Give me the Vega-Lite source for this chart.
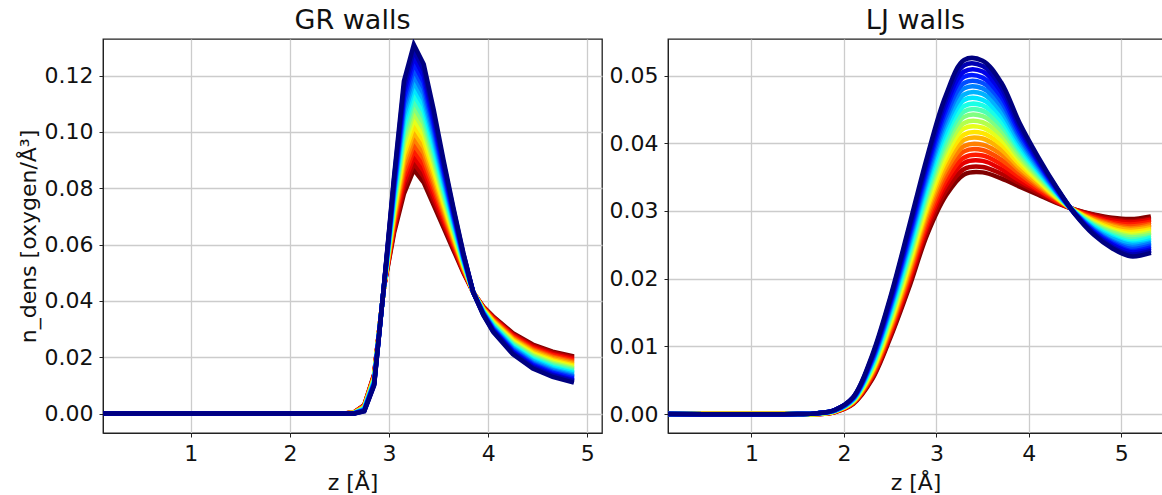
{"$schema":"https://vega.github.io/schema/vega-lite/v6.json","background":"white","padding":{"left":16,"top":6,"right":0,"bottom":0},"config":{"font":"DejaVu Sans","view":{"stroke":"#222","strokeWidth":1.3},"axis":{"labelFont":"DejaVu Sans","labelFontSize":22,"labelColor":"#111","titleFont":"DejaVu Sans","titleFontSize":22,"titleFontWeight":"normal","titleColor":"#111","tickColor":"#222","tickSize":4,"domainColor":"#222","gridColor":"#cccccc","gridWidth":1.3,"labelPadding":6},"title":{"font":"DejaVu Sans","fontSize":27,"fontWeight":"normal","color":"#111","offset":4}},"spacing":66,"bounds":"flush",
"datasets":{"gr":[
{"k":0,"z":0.115,"n":0},{"k":1,"z":0.115,"n":0},{"k":2,"z":0.115,"n":0},{"k":3,"z":0.115,"n":0},{"k":4,"z":0.115,"n":0},{"k":5,"z":0.115,"n":0},{"k":6,"z":0.115,"n":0},{"k":7,"z":0.115,"n":0},{"k":8,"z":0.115,"n":0},{"k":9,"z":0.115,"n":0},{"k":10,"z":0.115,"n":0},{"k":11,"z":0.115,"n":0},{"k":12,"z":0.115,"n":0},{"k":13,"z":0.115,"n":0},{"k":14,"z":0.115,"n":0},{"k":15,"z":0.115,"n":0},{"k":16,"z":0.115,"n":0},{"k":17,"z":0.115,"n":0},{"k":18,"z":0.115,"n":0},{"k":19,"z":0.115,"n":0},{"k":20,"z":0.115,"n":0},
{"k":0,"z":2.55,"n":0},{"k":1,"z":2.55,"n":0},{"k":2,"z":2.55,"n":0},{"k":3,"z":2.55,"n":0},{"k":4,"z":2.55,"n":0},{"k":5,"z":2.55,"n":0},{"k":6,"z":2.55,"n":0},{"k":7,"z":2.55,"n":0},{"k":8,"z":2.55,"n":0},{"k":9,"z":2.55,"n":0},{"k":10,"z":2.55,"n":0},{"k":11,"z":2.55,"n":0},{"k":12,"z":2.55,"n":0},{"k":13,"z":2.55,"n":0},{"k":14,"z":2.55,"n":0},{"k":15,"z":2.55,"n":0},{"k":16,"z":2.55,"n":0},{"k":17,"z":2.55,"n":0},{"k":18,"z":2.55,"n":0},{"k":19,"z":2.55,"n":0},{"k":20,"z":2.55,"n":0},
{"k":0,"z":2.65,"n":0.0005},{"k":1,"z":2.65,"n":0.0005},{"k":2,"z":2.65,"n":0.0004},{"k":3,"z":2.65,"n":0.0004},{"k":4,"z":2.65,"n":0.0004},{"k":5,"z":2.65,"n":0.0004},{"k":6,"z":2.65,"n":0.0003},{"k":7,"z":2.65,"n":0.0003},{"k":8,"z":2.65,"n":0.0003},{"k":9,"z":2.65,"n":0.0003},{"k":10,"z":2.65,"n":0.0002},{"k":11,"z":2.65,"n":0.0002},{"k":12,"z":2.65,"n":0.0002},{"k":13,"z":2.65,"n":0.0002},{"k":14,"z":2.65,"n":0.0001},{"k":15,"z":2.65,"n":0.0001},{"k":16,"z":2.65,"n":0.0001},{"k":17,"z":2.65,"n":0.0001},{"k":18,"z":2.65,"n":0},{"k":19,"z":2.65,"n":0},{"k":20,"z":2.65,"n":0},
{"k":0,"z":2.75,"n":0.003},{"k":1,"z":2.75,"n":0.0029},{"k":2,"z":2.75,"n":0.0028},{"k":3,"z":2.75,"n":0.0027},{"k":4,"z":2.75,"n":0.0026},{"k":5,"z":2.75,"n":0.0025},{"k":6,"z":2.75,"n":0.0023},{"k":7,"z":2.75,"n":0.0022},{"k":8,"z":2.75,"n":0.0021},{"k":9,"z":2.75,"n":0.002},{"k":10,"z":2.75,"n":0.0019},{"k":11,"z":2.75,"n":0.0018},{"k":12,"z":2.75,"n":0.0017},{"k":13,"z":2.75,"n":0.0016},{"k":14,"z":2.75,"n":0.0015},{"k":15,"z":2.75,"n":0.0014},{"k":16,"z":2.75,"n":0.0012},{"k":17,"z":2.75,"n":0.0011},{"k":18,"z":2.75,"n":0.001},{"k":19,"z":2.75,"n":0.0009},{"k":20,"z":2.75,"n":0.0008},
{"k":0,"z":2.85,"n":0.014},{"k":1,"z":2.85,"n":0.0138},{"k":2,"z":2.85,"n":0.0136},{"k":3,"z":2.85,"n":0.0134},{"k":4,"z":2.85,"n":0.0132},{"k":5,"z":2.85,"n":0.013},{"k":6,"z":2.85,"n":0.0128},{"k":7,"z":2.85,"n":0.0126},{"k":8,"z":2.85,"n":0.0124},{"k":9,"z":2.85,"n":0.0122},{"k":10,"z":2.85,"n":0.012},{"k":11,"z":2.85,"n":0.0118},{"k":12,"z":2.85,"n":0.0116},{"k":13,"z":2.85,"n":0.0114},{"k":14,"z":2.85,"n":0.0112},{"k":15,"z":2.85,"n":0.011},{"k":16,"z":2.85,"n":0.0108},{"k":17,"z":2.85,"n":0.0106},{"k":18,"z":2.85,"n":0.0104},{"k":19,"z":2.85,"n":0.0102},{"k":20,"z":2.85,"n":0.01},
{"k":0,"z":2.95,"n":0.045},{"k":1,"z":2.95,"n":0.045},{"k":2,"z":2.95,"n":0.0451},{"k":3,"z":2.95,"n":0.0451},{"k":4,"z":2.95,"n":0.0452},{"k":5,"z":2.95,"n":0.0452},{"k":6,"z":2.95,"n":0.0453},{"k":7,"z":2.95,"n":0.0453},{"k":8,"z":2.95,"n":0.0454},{"k":9,"z":2.95,"n":0.0454},{"k":10,"z":2.95,"n":0.0455},{"k":11,"z":2.95,"n":0.0455},{"k":12,"z":2.95,"n":0.0456},{"k":13,"z":2.95,"n":0.0456},{"k":14,"z":2.95,"n":0.0457},{"k":15,"z":2.95,"n":0.0457},{"k":16,"z":2.95,"n":0.0458},{"k":17,"z":2.95,"n":0.0458},{"k":18,"z":2.95,"n":0.0459},{"k":19,"z":2.95,"n":0.0459},{"k":20,"z":2.95,"n":0.046},
{"k":0,"z":3.05,"n":0.064},{"k":1,"z":3.05,"n":0.065},{"k":2,"z":3.05,"n":0.066},{"k":3,"z":3.05,"n":0.067},{"k":4,"z":3.05,"n":0.068},{"k":5,"z":3.05,"n":0.069},{"k":6,"z":3.05,"n":0.07},{"k":7,"z":3.05,"n":0.071},{"k":8,"z":3.05,"n":0.072},{"k":9,"z":3.05,"n":0.073},{"k":10,"z":3.05,"n":0.074},{"k":11,"z":3.05,"n":0.075},{"k":12,"z":3.05,"n":0.076},{"k":13,"z":3.05,"n":0.077},{"k":14,"z":3.05,"n":0.078},{"k":15,"z":3.05,"n":0.079},{"k":16,"z":3.05,"n":0.08},{"k":17,"z":3.05,"n":0.081},{"k":18,"z":3.05,"n":0.082},{"k":19,"z":3.05,"n":0.083},{"k":20,"z":3.05,"n":0.084},
{"k":0,"z":3.15,"n":0.078},{"k":1,"z":3.15,"n":0.08},{"k":2,"z":3.15,"n":0.082},{"k":3,"z":3.15,"n":0.084},{"k":4,"z":3.15,"n":0.086},{"k":5,"z":3.15,"n":0.088},{"k":6,"z":3.15,"n":0.09},{"k":7,"z":3.15,"n":0.092},{"k":8,"z":3.15,"n":0.094},{"k":9,"z":3.15,"n":0.096},{"k":10,"z":3.15,"n":0.098},{"k":11,"z":3.15,"n":0.1},{"k":12,"z":3.15,"n":0.102},{"k":13,"z":3.15,"n":0.104},{"k":14,"z":3.15,"n":0.106},{"k":15,"z":3.15,"n":0.108},{"k":16,"z":3.15,"n":0.11},{"k":17,"z":3.15,"n":0.112},{"k":18,"z":3.15,"n":0.114},{"k":19,"z":3.15,"n":0.116},{"k":20,"z":3.15,"n":0.118},
{"k":0,"z":3.25,"n":0.0866},{"k":1,"z":3.25,"n":0.0888},{"k":2,"z":3.25,"n":0.091},{"k":3,"z":3.25,"n":0.0933},{"k":4,"z":3.25,"n":0.0955},{"k":5,"z":3.25,"n":0.0977},{"k":6,"z":3.25,"n":0.0999},{"k":7,"z":3.25,"n":0.1021},{"k":8,"z":3.25,"n":0.1044},{"k":9,"z":3.25,"n":0.1066},{"k":10,"z":3.25,"n":0.1088},{"k":11,"z":3.25,"n":0.111},{"k":12,"z":3.25,"n":0.1132},{"k":13,"z":3.25,"n":0.1155},{"k":14,"z":3.25,"n":0.1177},{"k":15,"z":3.25,"n":0.1199},{"k":16,"z":3.25,"n":0.1221},{"k":17,"z":3.25,"n":0.1243},{"k":18,"z":3.25,"n":0.1266},{"k":19,"z":3.25,"n":0.1288},{"k":20,"z":3.25,"n":0.131},
{"k":0,"z":3.35,"n":0.082},{"k":1,"z":3.35,"n":0.0841},{"k":2,"z":3.35,"n":0.0862},{"k":3,"z":3.35,"n":0.0883},{"k":4,"z":3.35,"n":0.0904},{"k":5,"z":3.35,"n":0.0925},{"k":6,"z":3.35,"n":0.0946},{"k":7,"z":3.35,"n":0.0967},{"k":8,"z":3.35,"n":0.0988},{"k":9,"z":3.35,"n":0.1009},{"k":10,"z":3.35,"n":0.103},{"k":11,"z":3.35,"n":0.1051},{"k":12,"z":3.35,"n":0.1072},{"k":13,"z":3.35,"n":0.1093},{"k":14,"z":3.35,"n":0.1114},{"k":15,"z":3.35,"n":0.1135},{"k":16,"z":3.35,"n":0.1156},{"k":17,"z":3.35,"n":0.1177},{"k":18,"z":3.35,"n":0.1198},{"k":19,"z":3.35,"n":0.1219},{"k":20,"z":3.35,"n":0.124},
{"k":0,"z":3.45,"n":0.074},{"k":1,"z":3.45,"n":0.0757},{"k":2,"z":3.45,"n":0.0774},{"k":3,"z":3.45,"n":0.0791},{"k":4,"z":3.45,"n":0.0808},{"k":5,"z":3.45,"n":0.0825},{"k":6,"z":3.45,"n":0.0842},{"k":7,"z":3.45,"n":0.0859},{"k":8,"z":3.45,"n":0.0876},{"k":9,"z":3.45,"n":0.0893},{"k":10,"z":3.45,"n":0.091},{"k":11,"z":3.45,"n":0.0927},{"k":12,"z":3.45,"n":0.0944},{"k":13,"z":3.45,"n":0.0961},{"k":14,"z":3.45,"n":0.0978},{"k":15,"z":3.45,"n":0.0995},{"k":16,"z":3.45,"n":0.1012},{"k":17,"z":3.45,"n":0.1029},{"k":18,"z":3.45,"n":0.1046},{"k":19,"z":3.45,"n":0.1063},{"k":20,"z":3.45,"n":0.108},
{"k":0,"z":3.55,"n":0.066},{"k":1,"z":3.55,"n":0.0672},{"k":2,"z":3.55,"n":0.0684},{"k":3,"z":3.55,"n":0.0696},{"k":4,"z":3.55,"n":0.0708},{"k":5,"z":3.55,"n":0.072},{"k":6,"z":3.55,"n":0.0732},{"k":7,"z":3.55,"n":0.0744},{"k":8,"z":3.55,"n":0.0756},{"k":9,"z":3.55,"n":0.0768},{"k":10,"z":3.55,"n":0.078},{"k":11,"z":3.55,"n":0.0792},{"k":12,"z":3.55,"n":0.0804},{"k":13,"z":3.55,"n":0.0816},{"k":14,"z":3.55,"n":0.0828},{"k":15,"z":3.55,"n":0.084},{"k":16,"z":3.55,"n":0.0852},{"k":17,"z":3.55,"n":0.0864},{"k":18,"z":3.55,"n":0.0876},{"k":19,"z":3.55,"n":0.0888},{"k":20,"z":3.55,"n":0.09},
{"k":0,"z":3.65,"n":0.058},{"k":1,"z":3.65,"n":0.0588},{"k":2,"z":3.65,"n":0.0595},{"k":3,"z":3.65,"n":0.0603},{"k":4,"z":3.65,"n":0.061},{"k":5,"z":3.65,"n":0.0618},{"k":6,"z":3.65,"n":0.0625},{"k":7,"z":3.65,"n":0.0633},{"k":8,"z":3.65,"n":0.064},{"k":9,"z":3.65,"n":0.0648},{"k":10,"z":3.65,"n":0.0655},{"k":11,"z":3.65,"n":0.0663},{"k":12,"z":3.65,"n":0.067},{"k":13,"z":3.65,"n":0.0678},{"k":14,"z":3.65,"n":0.0685},{"k":15,"z":3.65,"n":0.0693},{"k":16,"z":3.65,"n":0.07},{"k":17,"z":3.65,"n":0.0708},{"k":18,"z":3.65,"n":0.0715},{"k":19,"z":3.65,"n":0.0723},{"k":20,"z":3.65,"n":0.073},
{"k":0,"z":3.75,"n":0.05},{"k":1,"z":3.75,"n":0.0504},{"k":2,"z":3.75,"n":0.0507},{"k":3,"z":3.75,"n":0.0511},{"k":4,"z":3.75,"n":0.0514},{"k":5,"z":3.75,"n":0.0518},{"k":6,"z":3.75,"n":0.0521},{"k":7,"z":3.75,"n":0.0525},{"k":8,"z":3.75,"n":0.0528},{"k":9,"z":3.75,"n":0.0532},{"k":10,"z":3.75,"n":0.0535},{"k":11,"z":3.75,"n":0.0539},{"k":12,"z":3.75,"n":0.0542},{"k":13,"z":3.75,"n":0.0546},{"k":14,"z":3.75,"n":0.0549},{"k":15,"z":3.75,"n":0.0553},{"k":16,"z":3.75,"n":0.0556},{"k":17,"z":3.75,"n":0.056},{"k":18,"z":3.75,"n":0.0563},{"k":19,"z":3.75,"n":0.0567},{"k":20,"z":3.75,"n":0.057},
{"k":0,"z":3.85,"n":0.043},{"k":1,"z":3.85,"n":0.043},{"k":2,"z":3.85,"n":0.043},{"k":3,"z":3.85,"n":0.043},{"k":4,"z":3.85,"n":0.043},{"k":5,"z":3.85,"n":0.043},{"k":6,"z":3.85,"n":0.043},{"k":7,"z":3.85,"n":0.043},{"k":8,"z":3.85,"n":0.043},{"k":9,"z":3.85,"n":0.043},{"k":10,"z":3.85,"n":0.043},{"k":11,"z":3.85,"n":0.043},{"k":12,"z":3.85,"n":0.043},{"k":13,"z":3.85,"n":0.043},{"k":14,"z":3.85,"n":0.043},{"k":15,"z":3.85,"n":0.043},{"k":16,"z":3.85,"n":0.043},{"k":17,"z":3.85,"n":0.043},{"k":18,"z":3.85,"n":0.043},{"k":19,"z":3.85,"n":0.043},{"k":20,"z":3.85,"n":0.043},
{"k":0,"z":3.95,"n":0.038},{"k":1,"z":3.95,"n":0.0379},{"k":2,"z":3.95,"n":0.0377},{"k":3,"z":3.95,"n":0.0376},{"k":4,"z":3.95,"n":0.0374},{"k":5,"z":3.95,"n":0.0373},{"k":6,"z":3.95,"n":0.0371},{"k":7,"z":3.95,"n":0.037},{"k":8,"z":3.95,"n":0.0368},{"k":9,"z":3.95,"n":0.0367},{"k":10,"z":3.95,"n":0.0365},{"k":11,"z":3.95,"n":0.0364},{"k":12,"z":3.95,"n":0.0362},{"k":13,"z":3.95,"n":0.0361},{"k":14,"z":3.95,"n":0.0359},{"k":15,"z":3.95,"n":0.0358},{"k":16,"z":3.95,"n":0.0356},{"k":17,"z":3.95,"n":0.0355},{"k":18,"z":3.95,"n":0.0353},{"k":19,"z":3.95,"n":0.0352},{"k":20,"z":3.95,"n":0.035},
{"k":0,"z":4.05,"n":0.0345},{"k":1,"z":4.05,"n":0.0342},{"k":2,"z":4.05,"n":0.034},{"k":3,"z":4.05,"n":0.0337},{"k":4,"z":4.05,"n":0.0334},{"k":5,"z":4.05,"n":0.0331},{"k":6,"z":4.05,"n":0.0329},{"k":7,"z":4.05,"n":0.0326},{"k":8,"z":4.05,"n":0.0323},{"k":9,"z":4.05,"n":0.032},{"k":10,"z":4.05,"n":0.0318},{"k":11,"z":4.05,"n":0.0315},{"k":12,"z":4.05,"n":0.0312},{"k":13,"z":4.05,"n":0.0309},{"k":14,"z":4.05,"n":0.0307},{"k":15,"z":4.05,"n":0.0304},{"k":16,"z":4.05,"n":0.0301},{"k":17,"z":4.05,"n":0.0298},{"k":18,"z":4.05,"n":0.0296},{"k":19,"z":4.05,"n":0.0293},{"k":20,"z":4.05,"n":0.029},
{"k":0,"z":4.25,"n":0.0285},{"k":1,"z":4.25,"n":0.0281},{"k":2,"z":4.25,"n":0.0278},{"k":3,"z":4.25,"n":0.0274},{"k":4,"z":4.25,"n":0.027},{"k":5,"z":4.25,"n":0.0266},{"k":6,"z":4.25,"n":0.0263},{"k":7,"z":4.25,"n":0.0259},{"k":8,"z":4.25,"n":0.0255},{"k":9,"z":4.25,"n":0.0251},{"k":10,"z":4.25,"n":0.0248},{"k":11,"z":4.25,"n":0.0244},{"k":12,"z":4.25,"n":0.024},{"k":13,"z":4.25,"n":0.0236},{"k":14,"z":4.25,"n":0.0233},{"k":15,"z":4.25,"n":0.0229},{"k":16,"z":4.25,"n":0.0225},{"k":17,"z":4.25,"n":0.0221},{"k":18,"z":4.25,"n":0.0218},{"k":19,"z":4.25,"n":0.0214},{"k":20,"z":4.25,"n":0.021},
{"k":0,"z":4.45,"n":0.0245},{"k":1,"z":4.45,"n":0.0241},{"k":2,"z":4.45,"n":0.0237},{"k":3,"z":4.45,"n":0.0232},{"k":4,"z":4.45,"n":0.0228},{"k":5,"z":4.45,"n":0.0224},{"k":6,"z":4.45,"n":0.022},{"k":7,"z":4.45,"n":0.0215},{"k":8,"z":4.45,"n":0.0211},{"k":9,"z":4.45,"n":0.0207},{"k":10,"z":4.45,"n":0.0203},{"k":11,"z":4.45,"n":0.0198},{"k":12,"z":4.45,"n":0.0194},{"k":13,"z":4.45,"n":0.019},{"k":14,"z":4.45,"n":0.0186},{"k":15,"z":4.45,"n":0.0181},{"k":16,"z":4.45,"n":0.0177},{"k":17,"z":4.45,"n":0.0173},{"k":18,"z":4.45,"n":0.0169},{"k":19,"z":4.45,"n":0.0164},{"k":20,"z":4.45,"n":0.016},
{"k":0,"z":4.65,"n":0.022},{"k":1,"z":4.65,"n":0.0216},{"k":2,"z":4.65,"n":0.0211},{"k":3,"z":4.65,"n":0.0207},{"k":4,"z":4.65,"n":0.0202},{"k":5,"z":4.65,"n":0.0198},{"k":6,"z":4.65,"n":0.0193},{"k":7,"z":4.65,"n":0.0189},{"k":8,"z":4.65,"n":0.0184},{"k":9,"z":4.65,"n":0.018},{"k":10,"z":4.65,"n":0.0175},{"k":11,"z":4.65,"n":0.0171},{"k":12,"z":4.65,"n":0.0166},{"k":13,"z":4.65,"n":0.0162},{"k":14,"z":4.65,"n":0.0157},{"k":15,"z":4.65,"n":0.0153},{"k":16,"z":4.65,"n":0.0148},{"k":17,"z":4.65,"n":0.0144},{"k":18,"z":4.65,"n":0.0139},{"k":19,"z":4.65,"n":0.0135},{"k":20,"z":4.65,"n":0.013},
{"k":0,"z":4.865,"n":0.0203},{"k":1,"z":4.865,"n":0.0198},{"k":2,"z":4.865,"n":0.0194},{"k":3,"z":4.865,"n":0.0189},{"k":4,"z":4.865,"n":0.0184},{"k":5,"z":4.865,"n":0.018},{"k":6,"z":4.865,"n":0.0175},{"k":7,"z":4.865,"n":0.017},{"k":8,"z":4.865,"n":0.0166},{"k":9,"z":4.865,"n":0.0161},{"k":10,"z":4.865,"n":0.0157},{"k":11,"z":4.865,"n":0.0152},{"k":12,"z":4.865,"n":0.0147},{"k":13,"z":4.865,"n":0.0143},{"k":14,"z":4.865,"n":0.0138},{"k":15,"z":4.865,"n":0.0133},{"k":16,"z":4.865,"n":0.0129},{"k":17,"z":4.865,"n":0.0124},{"k":18,"z":4.865,"n":0.0119},{"k":19,"z":4.865,"n":0.0115},{"k":20,"z":4.865,"n":0.011}
],"lj":[
{"k":0,"z":0.097,"n":0},{"k":1,"z":0.097,"n":0},{"k":2,"z":0.097,"n":0},{"k":3,"z":0.097,"n":0},{"k":4,"z":0.097,"n":0},{"k":5,"z":0.097,"n":0},{"k":6,"z":0.097,"n":0},{"k":7,"z":0.097,"n":0},{"k":8,"z":0.097,"n":0},{"k":9,"z":0.097,"n":0},{"k":10,"z":0.097,"n":0},{"k":11,"z":0.097,"n":0},{"k":12,"z":0.097,"n":0},{"k":13,"z":0.097,"n":0},{"k":14,"z":0.097,"n":0},{"k":15,"z":0.097,"n":0},{"k":16,"z":0.097,"n":0},{"k":17,"z":0.097,"n":0},{"k":18,"z":0.097,"n":0},{"k":19,"z":0.097,"n":0},{"k":20,"z":0.097,"n":0},
{"k":0,"z":1.5,"n":0},{"k":1,"z":1.5,"n":0},{"k":2,"z":1.5,"n":0},{"k":3,"z":1.5,"n":0},{"k":4,"z":1.5,"n":0},{"k":5,"z":1.5,"n":0},{"k":6,"z":1.5,"n":0},{"k":7,"z":1.5,"n":0},{"k":8,"z":1.5,"n":0},{"k":9,"z":1.5,"n":0},{"k":10,"z":1.5,"n":0},{"k":11,"z":1.5,"n":0},{"k":12,"z":1.5,"n":0},{"k":13,"z":1.5,"n":0},{"k":14,"z":1.5,"n":0},{"k":15,"z":1.5,"n":0},{"k":16,"z":1.5,"n":0},{"k":17,"z":1.5,"n":0},{"k":18,"z":1.5,"n":0},{"k":19,"z":1.5,"n":0},{"k":20,"z":1.5,"n":0},
{"k":0,"z":1.7,"n":0},{"k":1,"z":1.7,"n":0},{"k":2,"z":1.7,"n":0},{"k":3,"z":1.7,"n":0},{"k":4,"z":1.7,"n":0},{"k":5,"z":1.7,"n":0},{"k":6,"z":1.7,"n":0},{"k":7,"z":1.7,"n":0},{"k":8,"z":1.7,"n":0},{"k":9,"z":1.7,"n":0},{"k":10,"z":1.7,"n":0.0001},{"k":11,"z":1.7,"n":0.0001},{"k":12,"z":1.7,"n":0.0001},{"k":13,"z":1.7,"n":0.0001},{"k":14,"z":1.7,"n":0.0001},{"k":15,"z":1.7,"n":0.0001},{"k":16,"z":1.7,"n":0.0001},{"k":17,"z":1.7,"n":0.0001},{"k":18,"z":1.7,"n":0.0001},{"k":19,"z":1.7,"n":0.0001},{"k":20,"z":1.7,"n":0.0001},
{"k":0,"z":1.9,"n":0.0003},{"k":1,"z":1.9,"n":0.0003},{"k":2,"z":1.9,"n":0.0003},{"k":3,"z":1.9,"n":0.0003},{"k":4,"z":1.9,"n":0.0004},{"k":5,"z":1.9,"n":0.0004},{"k":6,"z":1.9,"n":0.0004},{"k":7,"z":1.9,"n":0.0004},{"k":8,"z":1.9,"n":0.0004},{"k":9,"z":1.9,"n":0.0004},{"k":10,"z":1.9,"n":0.0005},{"k":11,"z":1.9,"n":0.0005},{"k":12,"z":1.9,"n":0.0005},{"k":13,"z":1.9,"n":0.0005},{"k":14,"z":1.9,"n":0.0005},{"k":15,"z":1.9,"n":0.0005},{"k":16,"z":1.9,"n":0.0005},{"k":17,"z":1.9,"n":0.0006},{"k":18,"z":1.9,"n":0.0006},{"k":19,"z":1.9,"n":0.0006},{"k":20,"z":1.9,"n":0.0006},
{"k":0,"z":2.1,"n":0.0015},{"k":1,"z":2.1,"n":0.0016},{"k":2,"z":2.1,"n":0.0016},{"k":3,"z":2.1,"n":0.0017},{"k":4,"z":2.1,"n":0.0017},{"k":5,"z":2.1,"n":0.0018},{"k":6,"z":2.1,"n":0.0018},{"k":7,"z":2.1,"n":0.0019},{"k":8,"z":2.1,"n":0.0019},{"k":9,"z":2.1,"n":0.002},{"k":10,"z":2.1,"n":0.002},{"k":11,"z":2.1,"n":0.0021},{"k":12,"z":2.1,"n":0.0021},{"k":13,"z":2.1,"n":0.0022},{"k":14,"z":2.1,"n":0.0022},{"k":15,"z":2.1,"n":0.0023},{"k":16,"z":2.1,"n":0.0023},{"k":17,"z":2.1,"n":0.0024},{"k":18,"z":2.1,"n":0.0024},{"k":19,"z":2.1,"n":0.0025},{"k":20,"z":2.1,"n":0.0025},
{"k":0,"z":2.3,"n":0.005},{"k":1,"z":2.3,"n":0.0052},{"k":2,"z":2.3,"n":0.0054},{"k":3,"z":2.3,"n":0.0055},{"k":4,"z":2.3,"n":0.0057},{"k":5,"z":2.3,"n":0.0059},{"k":6,"z":2.3,"n":0.0061},{"k":7,"z":2.3,"n":0.0062},{"k":8,"z":2.3,"n":0.0064},{"k":9,"z":2.3,"n":0.0066},{"k":10,"z":2.3,"n":0.0068},{"k":11,"z":2.3,"n":0.0069},{"k":12,"z":2.3,"n":0.0071},{"k":13,"z":2.3,"n":0.0073},{"k":14,"z":2.3,"n":0.0075},{"k":15,"z":2.3,"n":0.0076},{"k":16,"z":2.3,"n":0.0078},{"k":17,"z":2.3,"n":0.008},{"k":18,"z":2.3,"n":0.0082},{"k":19,"z":2.3,"n":0.0083},{"k":20,"z":2.3,"n":0.0085},
{"k":0,"z":2.5,"n":0.0112},{"k":1,"z":2.5,"n":0.0115},{"k":2,"z":2.5,"n":0.0118},{"k":3,"z":2.5,"n":0.0121},{"k":4,"z":2.5,"n":0.0124},{"k":5,"z":2.5,"n":0.0127},{"k":6,"z":2.5,"n":0.013},{"k":7,"z":2.5,"n":0.0133},{"k":8,"z":2.5,"n":0.0136},{"k":9,"z":2.5,"n":0.0139},{"k":10,"z":2.5,"n":0.0142},{"k":11,"z":2.5,"n":0.0145},{"k":12,"z":2.5,"n":0.0148},{"k":13,"z":2.5,"n":0.0151},{"k":14,"z":2.5,"n":0.0154},{"k":15,"z":2.5,"n":0.0157},{"k":16,"z":2.5,"n":0.016},{"k":17,"z":2.5,"n":0.0163},{"k":18,"z":2.5,"n":0.0166},{"k":19,"z":2.5,"n":0.0169},{"k":20,"z":2.5,"n":0.0172},
{"k":0,"z":2.7,"n":0.0185},{"k":1,"z":2.7,"n":0.019},{"k":2,"z":2.7,"n":0.0194},{"k":3,"z":2.7,"n":0.0199},{"k":4,"z":2.7,"n":0.0203},{"k":5,"z":2.7,"n":0.0208},{"k":6,"z":2.7,"n":0.0212},{"k":7,"z":2.7,"n":0.0217},{"k":8,"z":2.7,"n":0.0221},{"k":9,"z":2.7,"n":0.0226},{"k":10,"z":2.7,"n":0.023},{"k":11,"z":2.7,"n":0.0235},{"k":12,"z":2.7,"n":0.0239},{"k":13,"z":2.7,"n":0.0244},{"k":14,"z":2.7,"n":0.0248},{"k":15,"z":2.7,"n":0.0253},{"k":16,"z":2.7,"n":0.0257},{"k":17,"z":2.7,"n":0.0262},{"k":18,"z":2.7,"n":0.0266},{"k":19,"z":2.7,"n":0.0271},{"k":20,"z":2.7,"n":0.0275},
{"k":0,"z":2.9,"n":0.0265},{"k":1,"z":2.9,"n":0.0271},{"k":2,"z":2.9,"n":0.0277},{"k":3,"z":2.9,"n":0.0282},{"k":4,"z":2.9,"n":0.0288},{"k":5,"z":2.9,"n":0.0294},{"k":6,"z":2.9,"n":0.03},{"k":7,"z":2.9,"n":0.0305},{"k":8,"z":2.9,"n":0.0311},{"k":9,"z":2.9,"n":0.0317},{"k":10,"z":2.9,"n":0.0323},{"k":11,"z":2.9,"n":0.0328},{"k":12,"z":2.9,"n":0.0334},{"k":13,"z":2.9,"n":0.034},{"k":14,"z":2.9,"n":0.0346},{"k":15,"z":2.9,"n":0.0351},{"k":16,"z":2.9,"n":0.0357},{"k":17,"z":2.9,"n":0.0363},{"k":18,"z":2.9,"n":0.0369},{"k":19,"z":2.9,"n":0.0374},{"k":20,"z":2.9,"n":0.038},
{"k":0,"z":3.1,"n":0.0322},{"k":1,"z":3.1,"n":0.0329},{"k":2,"z":3.1,"n":0.0337},{"k":3,"z":3.1,"n":0.0344},{"k":4,"z":3.1,"n":0.0352},{"k":5,"z":3.1,"n":0.0359},{"k":6,"z":3.1,"n":0.0366},{"k":7,"z":3.1,"n":0.0374},{"k":8,"z":3.1,"n":0.0381},{"k":9,"z":3.1,"n":0.0389},{"k":10,"z":3.1,"n":0.0396},{"k":11,"z":3.1,"n":0.0403},{"k":12,"z":3.1,"n":0.0411},{"k":13,"z":3.1,"n":0.0418},{"k":14,"z":3.1,"n":0.0426},{"k":15,"z":3.1,"n":0.0433},{"k":16,"z":3.1,"n":0.044},{"k":17,"z":3.1,"n":0.0448},{"k":18,"z":3.1,"n":0.0455},{"k":19,"z":3.1,"n":0.0463},{"k":20,"z":3.1,"n":0.047},
{"k":0,"z":3.3,"n":0.0354},{"k":1,"z":3.3,"n":0.0362},{"k":2,"z":3.3,"n":0.0371},{"k":3,"z":3.3,"n":0.0379},{"k":4,"z":3.3,"n":0.0388},{"k":5,"z":3.3,"n":0.0396},{"k":6,"z":3.3,"n":0.0405},{"k":7,"z":3.3,"n":0.0413},{"k":8,"z":3.3,"n":0.0422},{"k":9,"z":3.3,"n":0.043},{"k":10,"z":3.3,"n":0.0439},{"k":11,"z":3.3,"n":0.0447},{"k":12,"z":3.3,"n":0.0455},{"k":13,"z":3.3,"n":0.0464},{"k":14,"z":3.3,"n":0.0472},{"k":15,"z":3.3,"n":0.0481},{"k":16,"z":3.3,"n":0.0489},{"k":17,"z":3.3,"n":0.0498},{"k":18,"z":3.3,"n":0.0506},{"k":19,"z":3.3,"n":0.0515},{"k":20,"z":3.3,"n":0.0523},
{"k":0,"z":3.5,"n":0.0357},{"k":1,"z":3.5,"n":0.0365},{"k":2,"z":3.5,"n":0.0374},{"k":3,"z":3.5,"n":0.0382},{"k":4,"z":3.5,"n":0.039},{"k":5,"z":3.5,"n":0.0398},{"k":6,"z":3.5,"n":0.0407},{"k":7,"z":3.5,"n":0.0415},{"k":8,"z":3.5,"n":0.0423},{"k":9,"z":3.5,"n":0.0431},{"k":10,"z":3.5,"n":0.044},{"k":11,"z":3.5,"n":0.0448},{"k":12,"z":3.5,"n":0.0456},{"k":13,"z":3.5,"n":0.0464},{"k":14,"z":3.5,"n":0.0473},{"k":15,"z":3.5,"n":0.0481},{"k":16,"z":3.5,"n":0.0489},{"k":17,"z":3.5,"n":0.0497},{"k":18,"z":3.5,"n":0.0506},{"k":19,"z":3.5,"n":0.0514},{"k":20,"z":3.5,"n":0.0522},
{"k":0,"z":3.7,"n":0.0348},{"k":1,"z":3.7,"n":0.0355},{"k":2,"z":3.7,"n":0.0362},{"k":3,"z":3.7,"n":0.0369},{"k":4,"z":3.7,"n":0.0376},{"k":5,"z":3.7,"n":0.0384},{"k":6,"z":3.7,"n":0.0391},{"k":7,"z":3.7,"n":0.0398},{"k":8,"z":3.7,"n":0.0405},{"k":9,"z":3.7,"n":0.0412},{"k":10,"z":3.7,"n":0.0419},{"k":11,"z":3.7,"n":0.0426},{"k":12,"z":3.7,"n":0.0433},{"k":13,"z":3.7,"n":0.044},{"k":14,"z":3.7,"n":0.0447},{"k":15,"z":3.7,"n":0.0455},{"k":16,"z":3.7,"n":0.0462},{"k":17,"z":3.7,"n":0.0469},{"k":18,"z":3.7,"n":0.0476},{"k":19,"z":3.7,"n":0.0483},{"k":20,"z":3.7,"n":0.049},
{"k":0,"z":3.9,"n":0.0336},{"k":1,"z":3.9,"n":0.0341},{"k":2,"z":3.9,"n":0.0345},{"k":3,"z":3.9,"n":0.035},{"k":4,"z":3.9,"n":0.0355},{"k":5,"z":3.9,"n":0.036},{"k":6,"z":3.9,"n":0.0364},{"k":7,"z":3.9,"n":0.0369},{"k":8,"z":3.9,"n":0.0374},{"k":9,"z":3.9,"n":0.0378},{"k":10,"z":3.9,"n":0.0383},{"k":11,"z":3.9,"n":0.0388},{"k":12,"z":3.9,"n":0.0392},{"k":13,"z":3.9,"n":0.0397},{"k":14,"z":3.9,"n":0.0402},{"k":15,"z":3.9,"n":0.0407},{"k":16,"z":3.9,"n":0.0411},{"k":17,"z":3.9,"n":0.0416},{"k":18,"z":3.9,"n":0.0421},{"k":19,"z":3.9,"n":0.0425},{"k":20,"z":3.9,"n":0.043},
{"k":0,"z":4.1,"n":0.0324},{"k":1,"z":4.1,"n":0.0327},{"k":2,"z":4.1,"n":0.033},{"k":3,"z":4.1,"n":0.0332},{"k":4,"z":4.1,"n":0.0335},{"k":5,"z":4.1,"n":0.0338},{"k":6,"z":4.1,"n":0.0341},{"k":7,"z":4.1,"n":0.0344},{"k":8,"z":4.1,"n":0.0346},{"k":9,"z":4.1,"n":0.0349},{"k":10,"z":4.1,"n":0.0352},{"k":11,"z":4.1,"n":0.0355},{"k":12,"z":4.1,"n":0.0358},{"k":13,"z":4.1,"n":0.036},{"k":14,"z":4.1,"n":0.0363},{"k":15,"z":4.1,"n":0.0366},{"k":16,"z":4.1,"n":0.0369},{"k":17,"z":4.1,"n":0.0372},{"k":18,"z":4.1,"n":0.0374},{"k":19,"z":4.1,"n":0.0377},{"k":20,"z":4.1,"n":0.038},
{"k":0,"z":4.3,"n":0.0312},{"k":1,"z":4.3,"n":0.0313},{"k":2,"z":4.3,"n":0.0314},{"k":3,"z":4.3,"n":0.0315},{"k":4,"z":4.3,"n":0.0317},{"k":5,"z":4.3,"n":0.0318},{"k":6,"z":4.3,"n":0.0319},{"k":7,"z":4.3,"n":0.032},{"k":8,"z":4.3,"n":0.0321},{"k":9,"z":4.3,"n":0.0322},{"k":10,"z":4.3,"n":0.0324},{"k":11,"z":4.3,"n":0.0325},{"k":12,"z":4.3,"n":0.0326},{"k":13,"z":4.3,"n":0.0327},{"k":14,"z":4.3,"n":0.0328},{"k":15,"z":4.3,"n":0.0329},{"k":16,"z":4.3,"n":0.033},{"k":17,"z":4.3,"n":0.0332},{"k":18,"z":4.3,"n":0.0333},{"k":19,"z":4.3,"n":0.0334},{"k":20,"z":4.3,"n":0.0335},
{"k":0,"z":4.5,"n":0.0302},{"k":1,"z":4.5,"n":0.0302},{"k":2,"z":4.5,"n":0.0301},{"k":3,"z":4.5,"n":0.0301},{"k":4,"z":4.5,"n":0.0301},{"k":5,"z":4.5,"n":0.03},{"k":6,"z":4.5,"n":0.03},{"k":7,"z":4.5,"n":0.03},{"k":8,"z":4.5,"n":0.0299},{"k":9,"z":4.5,"n":0.0299},{"k":10,"z":4.5,"n":0.0299},{"k":11,"z":4.5,"n":0.0298},{"k":12,"z":4.5,"n":0.0298},{"k":13,"z":4.5,"n":0.0297},{"k":14,"z":4.5,"n":0.0297},{"k":15,"z":4.5,"n":0.0297},{"k":16,"z":4.5,"n":0.0296},{"k":17,"z":4.5,"n":0.0296},{"k":18,"z":4.5,"n":0.0296},{"k":19,"z":4.5,"n":0.0295},{"k":20,"z":4.5,"n":0.0295},
{"k":0,"z":4.7,"n":0.0295},{"k":1,"z":4.7,"n":0.0294},{"k":2,"z":4.7,"n":0.0292},{"k":3,"z":4.7,"n":0.0291},{"k":4,"z":4.7,"n":0.0289},{"k":5,"z":4.7,"n":0.0288},{"k":6,"z":4.7,"n":0.0286},{"k":7,"z":4.7,"n":0.0285},{"k":8,"z":4.7,"n":0.0283},{"k":9,"z":4.7,"n":0.0282},{"k":10,"z":4.7,"n":0.028},{"k":11,"z":4.7,"n":0.0279},{"k":12,"z":4.7,"n":0.0277},{"k":13,"z":4.7,"n":0.0276},{"k":14,"z":4.7,"n":0.0274},{"k":15,"z":4.7,"n":0.0273},{"k":16,"z":4.7,"n":0.0271},{"k":17,"z":4.7,"n":0.027},{"k":18,"z":4.7,"n":0.0268},{"k":19,"z":4.7,"n":0.0267},{"k":20,"z":4.7,"n":0.0265},
{"k":0,"z":4.9,"n":0.029},{"k":1,"z":4.9,"n":0.0288},{"k":2,"z":4.9,"n":0.0286},{"k":3,"z":4.9,"n":0.0283},{"k":4,"z":4.9,"n":0.0281},{"k":5,"z":4.9,"n":0.0279},{"k":6,"z":4.9,"n":0.0277},{"k":7,"z":4.9,"n":0.0274},{"k":8,"z":4.9,"n":0.0272},{"k":9,"z":4.9,"n":0.027},{"k":10,"z":4.9,"n":0.0268},{"k":11,"z":4.9,"n":0.0265},{"k":12,"z":4.9,"n":0.0263},{"k":13,"z":4.9,"n":0.0261},{"k":14,"z":4.9,"n":0.0259},{"k":15,"z":4.9,"n":0.0256},{"k":16,"z":4.9,"n":0.0254},{"k":17,"z":4.9,"n":0.0252},{"k":18,"z":4.9,"n":0.025},{"k":19,"z":4.9,"n":0.0247},{"k":20,"z":4.9,"n":0.0245},
{"k":0,"z":5.1,"n":0.0288},{"k":1,"z":5.1,"n":0.0285},{"k":2,"z":5.1,"n":0.0283},{"k":3,"z":5.1,"n":0.028},{"k":4,"z":5.1,"n":0.0277},{"k":5,"z":5.1,"n":0.0274},{"k":6,"z":5.1,"n":0.0272},{"k":7,"z":5.1,"n":0.0269},{"k":8,"z":5.1,"n":0.0266},{"k":9,"z":5.1,"n":0.0263},{"k":10,"z":5.1,"n":0.0261},{"k":11,"z":5.1,"n":0.0258},{"k":12,"z":5.1,"n":0.0255},{"k":13,"z":5.1,"n":0.0252},{"k":14,"z":5.1,"n":0.025},{"k":15,"z":5.1,"n":0.0247},{"k":16,"z":5.1,"n":0.0244},{"k":17,"z":5.1,"n":0.0241},{"k":18,"z":5.1,"n":0.0239},{"k":19,"z":5.1,"n":0.0236},{"k":20,"z":5.1,"n":0.0233},
{"k":0,"z":5.32,"n":0.0292},{"k":1,"z":5.32,"n":0.0289},{"k":2,"z":5.32,"n":0.0287},{"k":3,"z":5.32,"n":0.0284},{"k":4,"z":5.32,"n":0.0281},{"k":5,"z":5.32,"n":0.0279},{"k":6,"z":5.32,"n":0.0276},{"k":7,"z":5.32,"n":0.0273},{"k":8,"z":5.32,"n":0.027},{"k":9,"z":5.32,"n":0.0268},{"k":10,"z":5.32,"n":0.0265},{"k":11,"z":5.32,"n":0.0262},{"k":12,"z":5.32,"n":0.026},{"k":13,"z":5.32,"n":0.0257},{"k":14,"z":5.32,"n":0.0254},{"k":15,"z":5.32,"n":0.0252},{"k":16,"z":5.32,"n":0.0249},{"k":17,"z":5.32,"n":0.0246},{"k":18,"z":5.32,"n":0.0243},{"k":19,"z":5.32,"n":0.0241},{"k":20,"z":5.32,"n":0.0238}
]},
"hconcat":[
{"title":"GR walls","width":499,"height":394,"data":{"name":"gr"},"mark":{"type":"line","strokeWidth":4.5,"interpolate":"linear","clip":true},
"encoding":{"x":{"field":"z","type":"quantitative","scale":{"domain":[0.115,5.148],"nice":false,"zero":false},"axis":{"values":[1,2,3,4,5],"format":"d","title":"z [Å]","titlePadding":8}},
"y":{"field":"n","type":"quantitative","scale":{"domain":[-0.0069,0.133],"nice":false,"zero":false},"axis":{"values":[0,0.02,0.04,0.06,0.08,0.1,0.12],"format":".2f","title":"n_dens [oxygen/Å³]","titlePadding":4}},
"color":{"field":"k","type":"quantitative","legend":null,"scale":{"domain":[0,2.5,7.5,10,12.5,17.5,20],"range":["#800000","#ff0000","#ffff00","#80ff80","#00ffff","#0000ff","#000080"],"interpolate":"rgb"}},
"detail":{"field":"k","type":"nominal"}}},
{"title":"LJ walls","width":495,"height":394,"data":{"name":"lj"},"mark":{"type":"line","strokeWidth":4.5,"interpolate":"catmull-rom","clip":true},
"encoding":{"x":{"field":"z","type":"quantitative","scale":{"domain":[0.097,5.451],"nice":false,"zero":false},"axis":{"values":[1,2,3,4,5],"format":"d","title":"z [Å]","titlePadding":8}},
"y":{"field":"n","type":"quantitative","scale":{"domain":[-0.0028,0.0554],"nice":false,"zero":false},"axis":{"values":[0,0.01,0.02,0.03,0.04,0.05],"format":".2f","title":null}},
"color":{"field":"k","type":"quantitative","legend":null,"scale":{"domain":[0,2.5,7.5,10,12.5,17.5,20],"range":["#800000","#ff0000","#ffff00","#80ff80","#00ffff","#0000ff","#000080"],"interpolate":"rgb"}},
"detail":{"field":"k","type":"nominal"}}}
]}
